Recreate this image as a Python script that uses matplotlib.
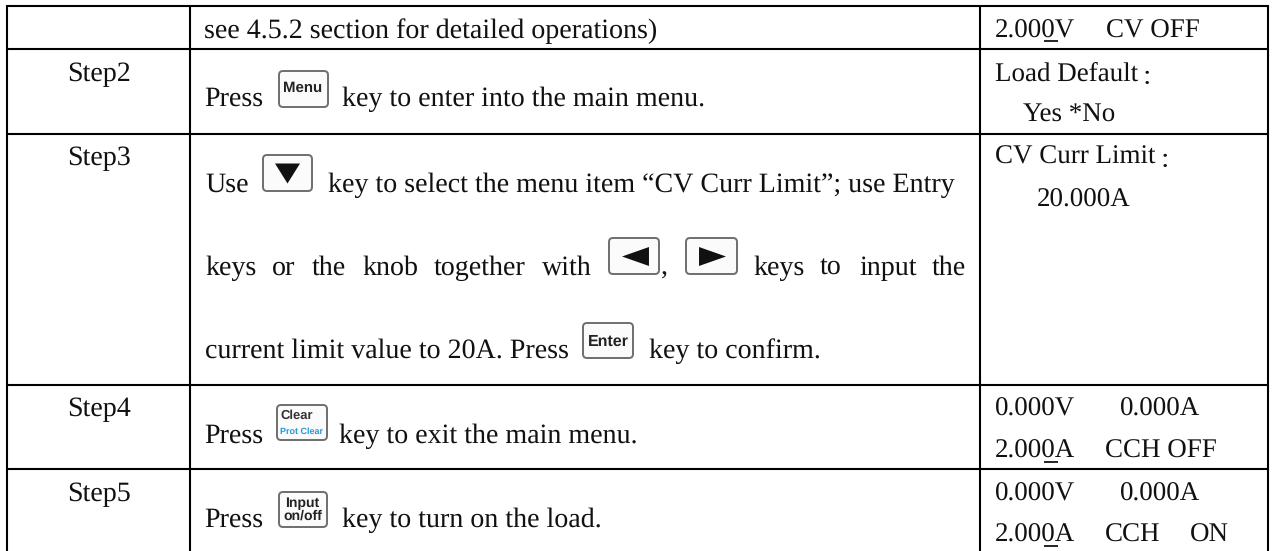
""" Recreates the Step2-Step5 procedure table"""
import matplotlib
matplotlib.use('Agg')
import matplotlib.pyplot as plt
from matplotlib.patches import FancyBboxPatch

plt.rcParams['font.family'] = ['Liberation Serif', 'Noto Sans CJK SC']
plt.rcParams['text.hinting'] = 'none'
plt.rcParams['text.hinting_factor'] = 1

#%% table content
list_steps = ['Step2', 'Step3', 'Step4', 'Step5']
list_top_desc = 'see 4.5.2 section for detailed operations)'
list_display = ['2.000V', 'CV OFF', 'Load Default', 'Yes *No', 'CV Curr Limit', '20.000A',
                '0.000V', '0.000A', '2.000A', 'CCH OFF', '0.000V', '0.000A', '2.000A', 'CCH', 'ON']
list_keys = ['Menu', 'Enter', 'Clear', 'Prot Clear', 'Input', 'on/off']

#%% figure in pixel coords
W, H = 1273, 551
fig = plt.figure(figsize=(W / 100, H / 100), dpi=100)
ax = fig.add_axes([0, 0, 1, 1])
ax.set_xlim(0, W)
ax.set_ylim(H, 0)
ax.axis('off')

FS = 19.8
FS_DISP = 19.5
TRI_DOWN = [(-12.5, 10), (12.5, 10), (0, -10)]
TRI_LEFT = [(13.5, -9.5), (13.5, 9.5), (-13.5, 0)]
TRI_RIGHT = [(-13.5, -9.5), (-13.5, 9.5), (13.5, 0)]


def txt(x, y, s, fs=FS):
    ax.text(x, y, s, va='baseline', color='#111111', fontsize=fs)


def key(x0, y0, x1, y1):
    ax.add_patch(FancyBboxPatch((x0 + 4, y0 + 4), x1 - x0 - 8, y1 - y0 - 8,
                                boxstyle='round,pad=4', fc='#fbfbfb', ec='#6e6e6e', lw=1.4, zorder=3))


def keytext(x, y, s, fs, color='#222222', bold=True):
    ax.text(x, y, s, ha='center', va='center', fontsize=fs, fontweight='bold' if bold else 'normal',
            family='Liberation Sans', color=color, zorder=4)


#%% grid lines
for x in [7, 190, 980, 1268]:
    ax.plot([x, x], [5, 551], color='black', lw=1.5, solid_capstyle='butt')
for y in [6, 49, 134, 385, 469]:
    ax.plot([6, 1269], [y, y], color='black', lw=1.5, solid_capstyle='butt')

#%% step column
for s, y in zip(list_steps, [81, 165, 416, 501]):
    txt(67, y, s)

#%% description column
txt(204, 38, list_top_desc)

txt(204, 106, 'Press')
key(279, 71, 328, 107)
keytext(303, 88, list_keys[0], 10.5)
txt(342, 106, 'key to enter into the main menu.')

txt(205, 192, 'Use')
key(263, 155, 312, 191)
ax.plot([287], [172.5], marker=TRI_DOWN, ms=18, color='#111111', mew=0, zorder=4)
txt(328, 192, 'key to select the menu item “CV Curr Limit”; use Entry')

list_words = ['keys', 'or', 'the', 'knob', 'together', 'with']
for w, x in zip(list_words, [205, 272, 312, 362, 434, 542]):
    txt(x, 275, w)
key(609, 238, 659, 274)
ax.plot([635], [256], marker=TRI_LEFT, ms=19.4, color='#111111', mew=0, zorder=4)
txt(661, 275, ',')
key(686, 238, 737, 274)
ax.plot([712], [256], marker=TRI_RIGHT, ms=19.4, color='#111111', mew=0, zorder=4)
for w, x in zip(['keys', 'to', 'input', 'the'], [753, 820, 859, 932]):
    txt(x, 275, w)

txt(205, 358, 'current limit value to 20A. Press')
key(583, 323, 633, 358)
keytext(608, 342, list_keys[1], 11.5)
txt(649, 358, 'key to confirm.')

txt(204, 443, 'Press')
key(277, 405, 327, 440)
keytext(297, 416, list_keys[2], 9.3, color='#333333')
keytext(302, 432, list_keys[3], 6.4, color='#1f9ad6')
txt(339, 443, 'key to exit the main menu.')

txt(204, 527, 'Press')
key(279, 492, 327, 527)
keytext(302, 503, list_keys[4], 10.3)
keytext(303, 516, list_keys[5], 10.3)
txt(342, 527, 'key to turn on the load.')

#%% display column
txt(995, 38, list_display[0], FS_DISP)
txt(1106, 38, list_display[1], FS_DISP)
txt(995, 81, list_display[2], FS_DISP)
txt(1142, 84, '：', 15)
txt(1023, 121, list_display[3], FS_DISP)
txt(995, 164, list_display[4], FS_DISP)
txt(1160, 167, '：', 15)
txt(1037, 207, list_display[5], FS_DISP)
txt(995, 416, list_display[6], FS_DISP)
txt(1120, 416, list_display[7], FS_DISP)
txt(995, 458, list_display[8], FS_DISP)
txt(1105, 458, list_display[9], FS_DISP)
txt(995, 501, list_display[10], FS_DISP)
txt(1120, 501, list_display[11], FS_DISP)
txt(995, 542, list_display[12], FS_DISP)
txt(1105, 542, list_display[13], FS_DISP)
txt(1190, 542, list_display[14], FS_DISP)

#%% underline the cursor digit on display rows
for y in [41, 462, 546]:
    ax.plot([1044, 1058], [y, y], color='black', lw=1.2, solid_capstyle='butt')

fig.savefig('out.png', dpi=100)
